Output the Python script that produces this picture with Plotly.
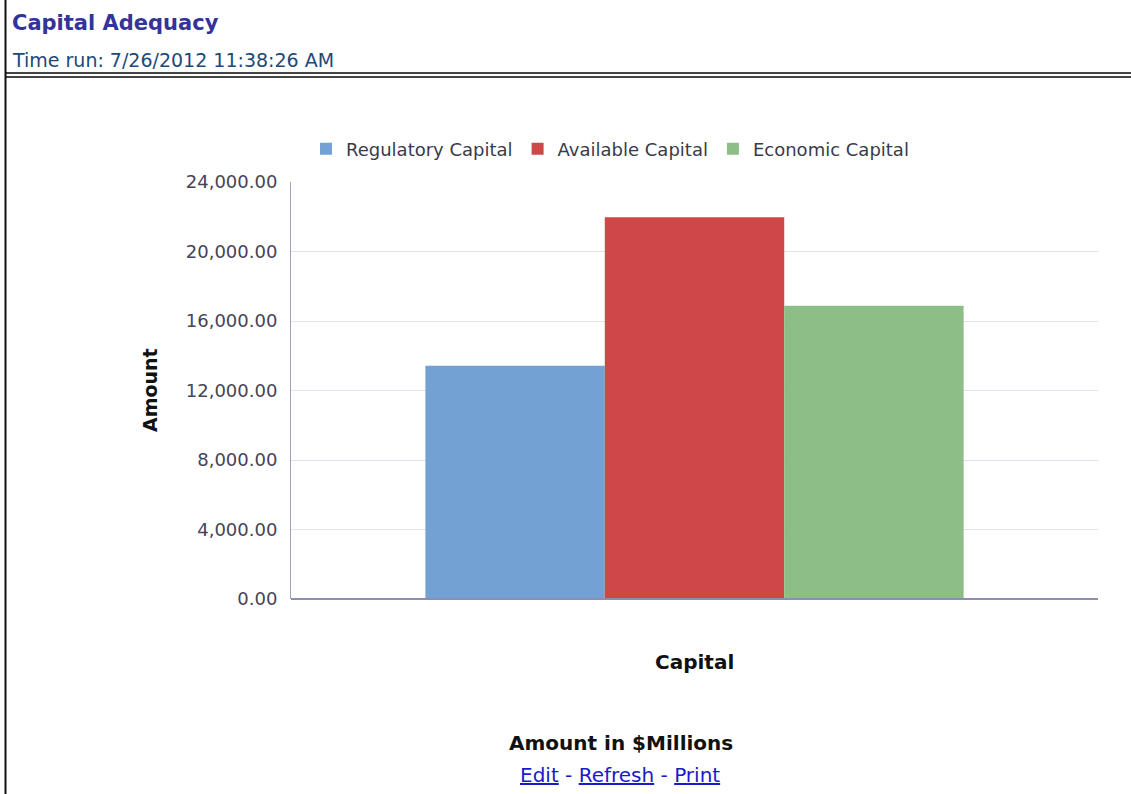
import plotly.graph_objects as go

# ---- data ----
categories = ["Capital"]
series_names = ["Regulatory Capital", "Available Capital", "Economic Capital"]
regulatory_capital = [13420]
available_capital = [21970]
economic_capital = [16880]
series_values = [regulatory_capital, available_capital, economic_capital]
series_colors = ["#73a1d3", "#cf4747", "#8dbe88"]
y_ticks = [0, 4000, 8000, 12000, 16000, 20000, 24000]

W, H = 1131, 794
L, R, T, B = 291, 1098, 182, 599  # plot area in pixels

FONT = "DejaVu Sans, Verdana, sans-serif"


def px(x):
    return (x - L) / (R - L)


def py(y):
    return (B - y) / (B - T)


fig = go.Figure()
for name, vals, col in zip(series_names, series_values, series_colors):
    fig.add_trace(go.Bar(
        x=categories, y=vals, name=name,
        marker=dict(color=col, line=dict(width=0)),
    ))

fig.update_layout(
    width=W, height=H,
    margin=dict(l=L, r=W - R, t=T, b=H - B, autoexpand=False),
    paper_bgcolor="white", plot_bgcolor="white",
    barmode="group", bargap=0.333, bargroupgap=0,
    showlegend=True,
    legend=dict(
        orientation="h", x=px(610), y=py(149), xanchor="center", yanchor="middle",
        font=dict(family=FONT, size=18, color="#3a3a4a"),
        itemwidth=30, tracegroupgap=0, bgcolor="rgba(0,0,0,0)",
    ),
    font=dict(family=FONT),
)

fig.update_xaxes(
    showticklabels=False, showgrid=False, showline=False, ticks="",
    zeroline=False,
)
fig.update_yaxes(
    range=[0, 24000], tickvals=y_ticks,
    ticktext=[f"{v:,.2f}" for v in y_ticks],
    tickfont=dict(family=FONT, size=18, color="#44445a"),
    showgrid=True, gridcolor="#e2e2ec", gridwidth=1,
    showline=True, linecolor="#a0a0c0", linewidth=1,
    zeroline=False, ticks="", ticklabelstandoff=9,
)

# baseline
fig.add_shape(type="line", xref="paper", yref="paper", x0=0, x1=1, y0=0, y1=0,
              line=dict(color="#8a8fb0", width=2))

# header double line
for yy in [73, 77]:
    fig.add_shape(type="line", xref="paper", yref="paper",
                  x0=px(5), x1=px(1131), y0=py(yy), y1=py(yy),
                  line=dict(color="#444444", width=2))
# left border
fig.add_shape(type="line", xref="paper", yref="paper",
              x0=px(5.5), x1=px(5.5), y0=py(0), y1=py(794),
              line=dict(color="#111111", width=2))

anns = [
    dict(text="<b>Capital Adequacy</b>", x=px(10), y=py(23), xanchor="left", yanchor="middle",
         font=dict(family=FONT, size=21, color="#333399")),
    dict(text="Time run: 7/26/2012 11:38:26 AM", x=px(10), y=py(60), xanchor="left", yanchor="middle",
         font=dict(family=FONT, size=19, color="#1c4a78")),
    dict(text="<b>Amount</b>", x=px(150), y=py(390), xanchor="center", yanchor="middle", textangle=-90,
         font=dict(family=FONT, size=19, color="#111111")),
    dict(text="<b>Capital</b>", x=px(694), y=py(662), xanchor="center", yanchor="middle",
         font=dict(family=FONT, size=20, color="#111111")),
    dict(text="<b>Amount in $Millions</b>", x=px(621), y=py(743), xanchor="center", yanchor="middle",
         font=dict(family=FONT, size=20, color="#111111")),
    dict(text="<u>Edit</u> - <u>Refresh</u> - <u>Print</u>", x=px(620), y=py(775), xanchor="center", yanchor="middle",
         font=dict(family=FONT, size=20, color="#1a1acc")),
]
for a in anns:
    fig.add_annotation(xref="paper", yref="paper", showarrow=False, **a)

fig.write_html("out.html", config={"displayModeBar": False},
               post_script="document.body.style.margin='0';document.body.style.overflow='hidden';")
